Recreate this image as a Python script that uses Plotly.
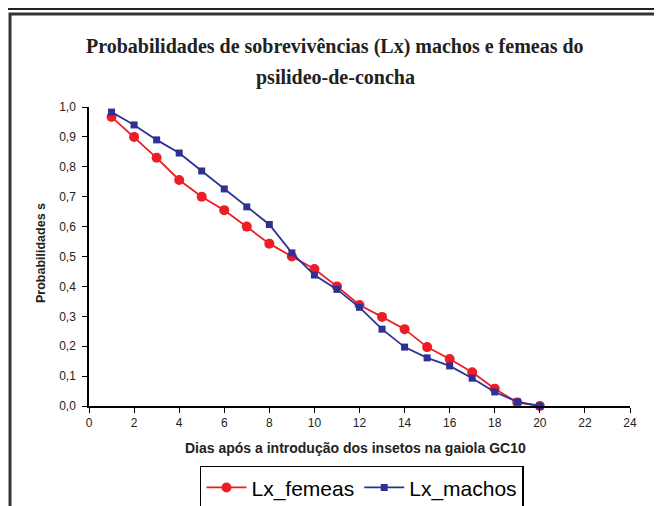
import plotly.graph_objects as go

dias = list(range(1, 21))
lx_femeas = [0.967, 0.90, 0.83, 0.756, 0.70, 0.655, 0.60, 0.543, 0.50, 0.458,
             0.40, 0.338, 0.298, 0.257, 0.197, 0.157, 0.113, 0.058, 0.012, 0.0]
lx_machos = [0.983, 0.94, 0.89, 0.846, 0.786, 0.726, 0.666, 0.607, 0.512, 0.438,
             0.39, 0.33, 0.257, 0.197, 0.161, 0.134, 0.093, 0.047, 0.014, 0.0]

titulo_l1 = "Probabilidades de sobrevivências (Lx) machos e femeas do"
titulo_l2 = "psilideo-de-concha"
x_titulo = "Dias após a introdução dos insetos na gaiola GC10"
y_titulo = "Probabilidades s"

red = "#EE1C25"
blue = "#2E3192"

fig = go.Figure()
fig.add_trace(go.Scatter(x=dias, y=lx_femeas, mode="lines+markers", name="Lx_femeas",
                         line=dict(color=red, width=1.8),
                         marker=dict(symbol="circle", size=10, color=red),
                         cliponaxis=False))
fig.add_trace(go.Scatter(x=dias, y=lx_machos, mode="lines+markers", name="Lx_machos",
                         line=dict(color=blue, width=1.8),
                         marker=dict(symbol="square", size=7, color=blue),
                         cliponaxis=False))

axis_font = dict(family="Arial, Liberation Sans", size=12, color="#222")
title_font = dict(family="Liberation Serif, Times New Roman", size=20, color="#222")
fig.update_layout(
    width=662, height=506,
    margin=dict(l=81, r=40, t=99, b=108, autoexpand=False),
    paper_bgcolor="white", plot_bgcolor="white",
    separators=",.",
    showlegend=True,
    legend=dict(orientation="h", x=0.5046, xanchor="center", y=-0.20, yanchor="top",
                bordercolor="black", borderwidth=1.5,
                font=dict(family="Arial, Liberation Sans", size=21, color="black"),
                itemwidth=40, tracegroupgap=0),
    xaxis=dict(range=[0, 24], dtick=2, tick0=0, showgrid=False, zeroline=False,
               showline=True, linecolor="black", linewidth=1.5,
               ticks="outside", ticklen=5, tickcolor="black", tickfont=axis_font),
    yaxis=dict(range=[0, 1], dtick=0.1, tick0=0, tickformat=".1f", showgrid=False,
               zeroline=False, showline=True, linecolor="black", linewidth=1.5,
               ticks="outside", ticklen=5, tickcolor="black", tickfont=axis_font,
               ticklabelstandoff=4),
    annotations=[
        dict(text="<b>" + titulo_l1 + "</b>", xref="paper", yref="paper", x=0.455, y=1.204,
             xanchor="center", yanchor="middle", showarrow=False, font=title_font),
        dict(text="<b>" + titulo_l2 + "</b>", xref="paper", yref="paper", x=0.455, y=1.1003,
             xanchor="center", yanchor="middle", showarrow=False, font=title_font),
        dict(text="<b>" + x_titulo + "</b>", xref="paper", yref="paper", x=0.4935, y=-0.1405,
             xanchor="center", yanchor="middle", showarrow=False,
             font=dict(family="Arial, Liberation Sans", size=14, color="#222")),
        dict(text="<b>" + y_titulo + "</b>", xref="paper", yref="paper", x=-0.0887, y=0.5117,
             xanchor="center", yanchor="middle", showarrow=False, textangle=-90,
             font=dict(family="Arial, Liberation Sans", size=12.5, color="#222")),
    ],
    shapes=[
        dict(type="line", xref="paper", yref="paper", x0=-0.2, x1=1.1, y0=1.3278, y1=1.3278,
             line=dict(color="#222", width=2)),
        dict(type="rect", xref="paper", yref="paper", x0=-0.146, x1=1.1, y0=-0.4, y1=1.311,
             line=dict(color="#333", width=3)),
    ],
)

fig.write_html("out.html")
